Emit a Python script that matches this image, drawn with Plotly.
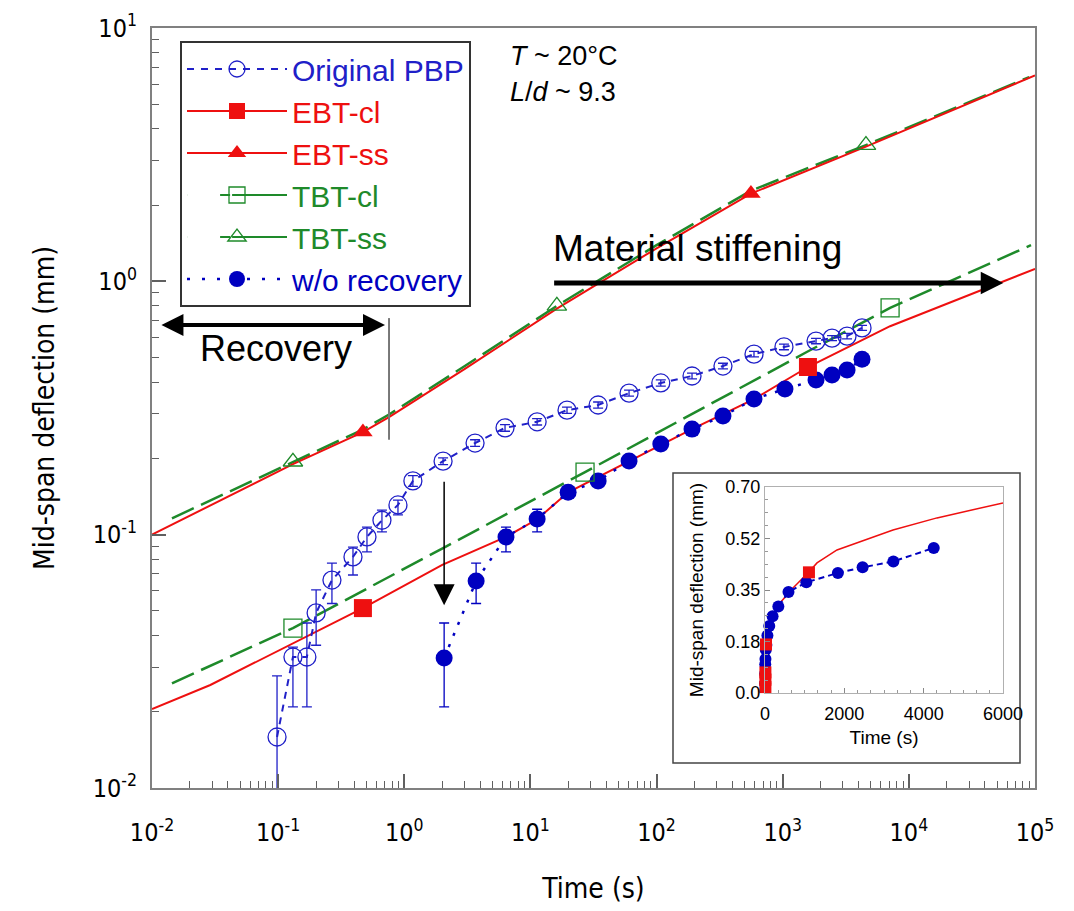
import math
import plotly.graph_objects as go

# ---------------- data ----------------
# Euler-Bernoulli / Timoshenko model curves (mm vs s)
ebt_ss_t = [0.01, 0.131, 0.47, 0.757, 3.0, 16.2, 100, 560, 4570, 1e5]
ebt_ss_y = [0.100, 0.190, 0.254, 0.291, 0.45, 0.78, 1.35, 2.22, 3.40, 6.5]
tbt_ss_t = [0.0144, 0.131, 0.47, 0.757, 3.0, 16.2, 100, 560, 4570, 9.0e4]
tbt_ss_y = [0.116, 0.194, 0.260, 0.298, 0.462, 0.80, 1.39, 2.28, 3.45, 6.4]
ebt_cl_t = [0.01, 0.029, 0.47, 2.0, 6.4, 11.3, 19.9, 60.5, 191, 592, 1585, 7100, 3.0e4, 1e5]
ebt_cl_y = [0.0205, 0.0255, 0.0513, 0.076, 0.098, 0.115, 0.147, 0.195, 0.261, 0.343, 0.459, 0.665, 0.88, 1.12]
tbt_cl_t = [0.0144, 0.131, 2.03, 27.1, 233, 1550, 7100, 9.3e4]
tbt_cl_y = [0.0259, 0.0428, 0.0885, 0.1766, 0.316, 0.526, 0.785, 1.39]

# sparse symbols drawn on the model curves
ebt_ss_mk_t = [0.47, 560]
ebt_ss_mk_y = [0.254, 2.22]
tbt_ss_mk_t = [0.131, 16.2, 4570]
tbt_ss_mk_y = [0.194, 0.80, 3.45]
ebt_cl_mk_t = [0.47, 1585]
ebt_cl_mk_y = [0.0513, 0.459]
tbt_cl_mk_t = [0.131, 27.1, 7100]
tbt_cl_mk_y = [0.0428, 0.1766, 0.785]

# Original PBP (open circles) with error bars
pbp_t = [0.098, 0.131, 0.169, 0.200, 0.267, 0.392, 0.506, 0.665, 0.891, 1.17,
         2.03, 3.64, 6.29, 11.3, 19.5, 34.4, 60.5, 108, 191, 336,
         592, 1023, 1837, 2460, 3236, 4254]
pbp_y = [0.0159, 0.0329, 0.0329, 0.0491, 0.0662, 0.0817, 0.098, 0.114, 0.131, 0.163,
         0.195, 0.230, 0.264, 0.279, 0.310, 0.325, 0.362, 0.397, 0.423, 0.463,
         0.516, 0.551, 0.581, 0.597, 0.608, 0.655]
pbp_err_hi = [0.0118, 0.0031, 0.0119, 0.0114, 0.0110, 0.0076, 0.0090, 0.0110, 0.0060, 0.0080,
              0.006, 0.007, 0.008, 0.008, 0.009, 0.009, 0.010, 0.011, 0.011, 0.012,
              0.013, 0.014, 0.014, 0.014, 0.015, 0.015]
pbp_err_lo = [0.0155, 0.0120, 0.0120, 0.0125, 0.0127, 0.0124, 0.0125, 0.0114, 0.0113, 0.0080,
              0.006, 0.007, 0.008, 0.008, 0.009, 0.009, 0.010, 0.011, 0.011, 0.012,
              0.013, 0.014, 0.014, 0.014, 0.015, 0.015]

# Without recovery (filled circles) with error bars
wo_t = [2.07, 3.71, 6.40, 11.3, 19.9, 34.4, 60.5, 108, 191, 336,
        592, 1042, 1837, 2460, 3236, 4254]
wo_y = [0.0326, 0.0656, 0.098, 0.1153, 0.147, 0.163, 0.1954, 0.228, 0.261, 0.294,
        0.343, 0.376, 0.408, 0.427, 0.447, 0.493]
wo_err_hi = [0.0122, 0.0116, 0.009, 0.0107, 0.006, 0.005, 0.005, 0.005, 0.005, 0.005,
             0.005, 0.005, 0.005, 0.005, 0.005, 0.005]
wo_err_lo = [0.0117, 0.0121, 0.0125, 0.0127, 0.007, 0.005, 0.005, 0.005, 0.005, 0.005,
             0.005, 0.005, 0.005, 0.005, 0.005, 0.005]

# Inset (linear axes)
inset_ebt_t = [0, 10, 50, 150, 378, 706, 1100, 1311, 1815, 3227, 4336, 6000]
inset_ebt_y = [0.02, 0.12, 0.19, 0.25, 0.306, 0.357, 0.41, 0.442, 0.486, 0.554, 0.595, 0.646]
inset_sq_t = [10, 10, 10, 25, 1108]
inset_sq_y = [0.02, 0.045, 0.07, 0.165, 0.41]

# tick labels
x_tickvals = [1e-2, 1e-1, 1e0, 1e1, 1e2, 1e3, 1e4, 1e5]
x_ticktext = ["10<sup>-2</sup>", "10<sup>-1</sup>", "10<sup>0</sup>", "10<sup>1</sup>",
              "10<sup>2</sup>", "10<sup>3</sup>", "10<sup>4</sup>", "10<sup>5</sup>"]
y_tickvals = [1e-2, 1e-1, 1e0, 1e1]
y_ticktext = ["10<sup>-2</sup>", "10<sup>-1</sup>", "10<sup>0</sup>", "10<sup>1</sup>"]
inset_x_tickvals = [0, 2000, 4000, 6000]
inset_y_tickvals = [0.0, 0.175, 0.35, 0.525, 0.70]
inset_y_ticktext = ["0.0", "0.18", "0.35", "0.52", "0.70"]

# ---------------- styling ----------------
BLUE_O = "#2020c8"
BLUE_F = "#0000c0"
RED = "#ee1010"
GREEN = "#1e8a2a"
FONT = "Liberation Sans, Arial, sans-serif"
NARROW = "Liberation Sans Narrow, DejaVu Sans Condensed, Liberation Sans, Arial, sans-serif"

# plot area in screenshot pixels: x 152..1035, y 28..788 (page has an 8px body margin)
def px_x(px):
    return (px - 152) / 883.0

def px_y(py):
    return (788 - py) / 760.0

minor_x = [k * 10 ** n for n in range(-2, 5) for k in range(2, 10)]
minor_y = [k * 10 ** n for n in range(-2, 1) for k in range(2, 10)]

fig = go.Figure()

# ---- model curves (no legend) ----
fig.add_trace(go.Scatter(x=tbt_ss_t, y=tbt_ss_y, mode="lines", showlegend=False,
                         line=dict(color=GREEN, width=2.5, dash="24px,8px")))
fig.add_trace(go.Scatter(x=ebt_ss_t, y=ebt_ss_y, mode="lines", showlegend=False,
                         line=dict(color=RED, width=2)))
fig.add_trace(go.Scatter(x=tbt_cl_t, y=tbt_cl_y, mode="lines", showlegend=False,
                         line=dict(color=GREEN, width=2.5, dash="24px,8px")))
fig.add_trace(go.Scatter(x=ebt_cl_t, y=ebt_cl_y, mode="lines", showlegend=False,
                         line=dict(color=RED, width=2)))

# ---- Original PBP ----
fig.add_trace(go.Scatter(
    x=pbp_t, y=pbp_y, mode="lines+markers", showlegend=False,
    line=dict(color=BLUE_O, width=2, dash="7px,6px"),
    marker=dict(symbol="circle-open", size=18, color=BLUE_O, line=dict(width=1.3)),
    error_y=dict(type="data", array=pbp_err_hi, arrayminus=pbp_err_lo,
                 color=BLUE_O, thickness=1.3, width=5)))

# ---- w/o recovery ----
fig.add_trace(go.Scatter(
    x=wo_t, y=wo_y, mode="lines+markers", showlegend=False,
    line=dict(color=BLUE_F, width=2.5, dash="3px,9px"),
    marker=dict(symbol="circle", size=17, color=BLUE_F),
    error_y=dict(type="data", array=wo_err_hi, arrayminus=wo_err_lo,
                 color=BLUE_F, thickness=1.3, width=5)))

# ---- curve symbols ----
fig.add_trace(go.Scatter(x=tbt_ss_mk_t, y=tbt_ss_mk_y, mode="markers", showlegend=False,
                         marker=dict(symbol="triangle-up-open", size=17, color=GREEN,
                                     line=dict(width=1.3))))
fig.add_trace(go.Scatter(x=ebt_ss_mk_t, y=ebt_ss_mk_y, mode="markers", showlegend=False,
                         marker=dict(symbol="triangle-up", size=17, color=RED)))
fig.add_trace(go.Scatter(x=tbt_cl_mk_t, y=tbt_cl_mk_y, mode="markers", showlegend=False,
                         marker=dict(symbol="square-open", size=18, color=GREEN,
                                     line=dict(width=1.3))))
fig.add_trace(go.Scatter(x=ebt_cl_mk_t, y=ebt_cl_mk_y, mode="markers", showlegend=False,
                         marker=dict(symbol="square", size=18, color=RED)))

# ---- legend entries ----
def legend_entry(name, color, line, marker):
    fig.add_trace(go.Scatter(x=[None], y=[None], mode="lines+markers",
                             name='<span style="color:%s">%s</span>' % (color, name),
                             line=line, marker=marker))

legend_entry("Original PBP", BLUE_O, dict(color=BLUE_O, width=2, dash="7px,7px"),
             dict(symbol="circle-open", size=16, color=BLUE_O, line=dict(width=1.3)))
legend_entry("EBT-cl", RED, dict(color=RED, width=2),
             dict(symbol="square", size=16, color=RED))
legend_entry("EBT-ss", RED, dict(color=RED, width=2),
             dict(symbol="triangle-up", size=16, color=RED))
legend_entry("TBT-cl", GREEN, dict(color=GREEN, width=2, dash="0.1px,33px,10px,2px,300px"),
             dict(symbol="square-open", size=16, color=GREEN, line=dict(width=1.3)))
legend_entry("TBT-ss", GREEN, dict(color=GREEN, width=2, dash="0.1px,33px,10px,2px,300px"),
             dict(symbol="triangle-up-open", size=16, color=GREEN, line=dict(width=1.3)))
legend_entry("w/o recovery", BLUE_F, dict(color=BLUE_F, width=2.5, dash="3px,12px"),
             dict(symbol="circle", size=16, color=BLUE_F))

# ---- inset ----
fig.add_trace(go.Scatter(x=inset_ebt_t, y=inset_ebt_y, xaxis="x2", yaxis="y2", mode="lines",
                         showlegend=False, line=dict(color=RED, width=1.5), cliponaxis=False))
fig.add_trace(go.Scatter(x=wo_t, y=wo_y, xaxis="x2", yaxis="y2", mode="lines+markers",
                         showlegend=False, cliponaxis=False,
                         line=dict(color=BLUE_F, width=2, dash="6px,4px"),
                         marker=dict(symbol="circle", size=12, color=BLUE_F)))
fig.add_trace(go.Scatter(x=inset_sq_t, y=inset_sq_y, xaxis="x2", yaxis="y2", mode="markers",
                         showlegend=False, cliponaxis=False,
                         marker=dict(symbol="square", size=12, color=RED)))

# ---- annotations ----
ann = []
# Material stiffening arrow
ms_y = math.log10(0.985)
ann.append(dict(x=math.log10(5.6e4), y=ms_y, ax=math.log10(15.0), ay=ms_y,
                xref="x", yref="y", axref="x", ayref="y", text="", showarrow=True,
                arrowhead=2, arrowsize=0.9, arrowwidth=5, arrowcolor="black"))
# Recovery double arrow
rc_y = math.log10(0.673)
ann.append(dict(x=math.log10(0.703), y=rc_y, ax=math.log10(0.01156), ay=rc_y,
                xref="x", yref="y", axref="x", ayref="y", text="", showarrow=True,
                arrowside="end+start", arrowhead=2, startarrowhead=2,
                arrowsize=1.1, startarrowsize=1.1, arrowwidth=4, arrowcolor="black"))
# down arrow at t ~ 2 s
ann.append(dict(x=math.log10(2.07), y=math.log10(0.0527), ax=math.log10(2.07), ay=math.log10(0.164),
                xref="x", yref="y", axref="x", ayref="y", text="", showarrow=True,
                arrowhead=2, arrowsize=2.8, arrowwidth=1.5, arrowcolor="black"))
# texts
ann.append(dict(x=px_x(276), y=px_y(348), xref="paper", yref="paper", text="Recovery",
                showarrow=False, xanchor="center", yanchor="middle",
                font=dict(family=FONT, size=36, color="black")))
ann.append(dict(x=px_x(551), y=px_y(249), xref="paper", yref="paper", text="Material stiffening",
                showarrow=False, xanchor="left", yanchor="middle",
                font=dict(family=FONT, size=37, color="black")))
ann.append(dict(x=px_x(508), y=px_y(56), xref="paper", yref="paper", text="<i>T</i> ~ 20°C",
                showarrow=False, xanchor="left", yanchor="middle",
                font=dict(family=FONT, size=27, color="black")))
ann.append(dict(x=px_x(508), y=px_y(92), xref="paper", yref="paper", text="<i>L</i>/<i>d</i> ~ 9.3",
                showarrow=False, xanchor="left", yanchor="middle",
                font=dict(family=FONT, size=27, color="black")))

shapes = [
    # inset frame
    dict(type="rect", xref="paper", yref="paper", x0=px_x(673), x1=px_x(1020),
         y0=px_y(763), y1=px_y(473), line=dict(color="#444444", width=1.5),
         fillcolor="white", layer="below"),
    # recovery boundary
    dict(type="line", xref="x", yref="y", x0=0.757, x1=0.757, y0=0.237, y1=0.716,
         line=dict(color="#777777", width=2)),
]

fig.update_layout(
    width=1066, height=903,
    margin=dict(l=144, r=39, t=20, b=123, autoexpand=False),
    paper_bgcolor="white", plot_bgcolor="white",
    showlegend=True,
    legend=dict(x=px_x(180), y=px_y(41), xanchor="left", yanchor="top",
                bgcolor="white", bordercolor="#333333", borderwidth=2,
                font=dict(family=FONT, size=30), itemwidth=100, tracegroupgap=0),
    annotations=ann, shapes=shapes,
    xaxis=dict(type="log", range=[-2, 5], showgrid=False, zeroline=False, automargin=False,
               showline=True, linecolor="#808080", linewidth=2, mirror=True,
               ticks="inside", ticklen=14, tickwidth=1.5, tickcolor="#606060",
               tickmode="array", tickvals=x_tickvals, ticktext=x_ticktext,
               ticklabelstandoff=21,
               minor=dict(ticks="inside", ticklen=7, tickwidth=1.2, tickcolor="#606060",
                          tickmode="array", tickvals=minor_x),
               tickfont=dict(family=NARROW, size=25, color="black"),
               title=dict(text="Time (s)", font=dict(family=NARROW, size=28, color="black"),
                          standoff=32)),
    yaxis=dict(type="log", range=[-2, 1], showgrid=False, zeroline=False, automargin=False,
               showline=True, linecolor="#808080", linewidth=2, mirror=True,
               ticks="inside", ticklen=14, tickwidth=1.5, tickcolor="#606060",
               tickmode="array", tickvals=y_tickvals, ticktext=y_ticktext,
               ticklabelstandoff=8,
               minor=dict(ticks="inside", ticklen=7, tickwidth=1.2, tickcolor="#606060",
                          tickmode="array", tickvals=minor_y),
               tickfont=dict(family=NARROW, size=25, color="black"),
               title=dict(text="Mid-span deflection (mm)",
                          font=dict(family=NARROW, size=28, color="black"), standoff=30)),
    xaxis2=dict(domain=[px_x(765), px_x(1003)], anchor="y2", range=[0, 6000], automargin=False,
                showgrid=False, zeroline=False, showline=True, linecolor="#b0b0b0",
                linewidth=1, mirror=True, ticks="inside", ticklen=5, tickcolor="#888888",
                tickmode="array", tickvals=inset_x_tickvals, ticklabelstandoff=4,
                minor=dict(ticks="inside", ticklen=3, tickcolor="#999999", dtick=2000 / 6),
                tickfont=dict(family=FONT, size=18, color="black"),
                title=dict(text="Time (s)", font=dict(family=FONT, size=19, color="black"),
                           standoff=8)),
    yaxis2=dict(domain=[px_y(693), px_y(487)], anchor="x2", range=[0, 0.70], automargin=False,
                showgrid=False, zeroline=False, showline=True, linecolor="#b0b0b0",
                linewidth=1, mirror=True, ticks="inside", ticklen=5, tickcolor="#888888",
                tickmode="array", tickvals=inset_y_tickvals, ticktext=inset_y_ticktext,
                minor=dict(ticks="inside", ticklen=3, tickcolor="#999999", dtick=0.04375),
                tickfont=dict(family=FONT, size=18, color="black"),
                title=dict(text="Mid-span deflection (mm)",
                           font=dict(family=FONT, size=19, color="black"), standoff=16)),
)

fig.write_html("out.html")
